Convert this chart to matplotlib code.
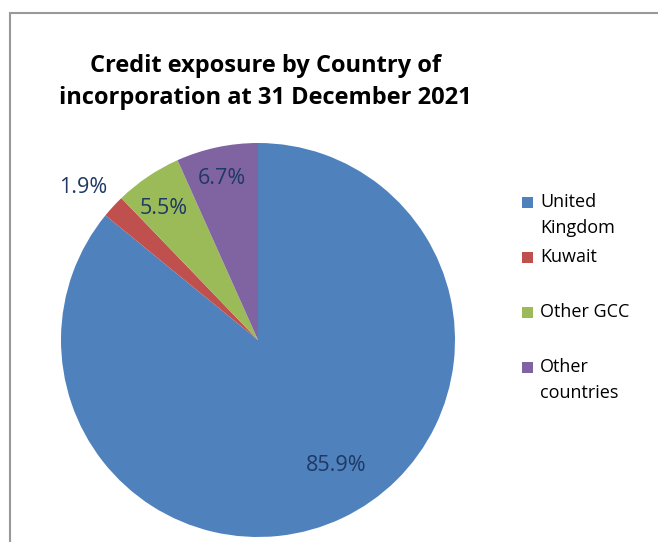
import matplotlib.pyplot as plt
from matplotlib.patches import Rectangle

# data
countries = ["United\nKingdom", "Kuwait", "Other GCC", "Other\ncountries"]
shares = [85.9, 1.9, 5.5, 6.7]
colours = ["#4F81BD", "#C0504D", "#9BBB59", "#8064A2"]
title = "Credit exposure by Country of\nincorporation at 31 December 2021"

# where Excel put the percentage labels (pie radius units)
label_xy = [(0.396, -0.635), (-0.888, 0.772), (-0.477, 0.670), (-0.183, 0.822)]

plt.rcParams['font.family'] = ['Open Sans', 'DejaVu Sans']

fig = plt.figure(figsize=(6.58, 5.42), dpi=100)
W, H = 658, 542

# chart area border
fig.patches.append(Rectangle((10 / W, -0.1), 1.1, 0.1 + (H - 13) / H,
                             transform=fig.transFigure, fill=False,
                             edgecolor="#999999", linewidth=1.5))

ax = fig.add_axes([61 / W, 5 / H, 394 / W, 394 / H])
wedges, texts, autotexts = ax.pie(shares, colors=colours, startangle=90,
                                  counterclock=False, autopct="%.1f%%",
                                  wedgeprops=dict(linewidth=0),
                                  textprops=dict(color="#1F3864", fontsize=15.5))
for t, (x, y) in zip(autotexts, label_xy):
    t.set_position((x, y))
ax.set_xlim(-1, 1)
ax.set_ylim(-1, 1)
ax.set_aspect("equal")
ax.axis("off")

fig.text(265 / W, 1 - 82 / H, title, ha="center", va="center",
         fontsize=17, fontweight="bold", linespacing=1.4)

# legend, Excel style spacing
for i, (name, c) in enumerate(zip(countries, colours)):
    y = 1 - (202 + 55 * i) / H
    fig.patches.append(Rectangle((522 / W, y - 5.5 / H), 11 / W, 11 / H,
                                 transform=fig.transFigure, facecolor=c,
                                 edgecolor="none"))
    for j, line in enumerate(name.split("\n")):
        fig.text(540 / W, y - 26 * j / H, line, ha="left", va="center",
                 fontsize=13, transform=fig.transFigure)

fig.savefig("out.png")
